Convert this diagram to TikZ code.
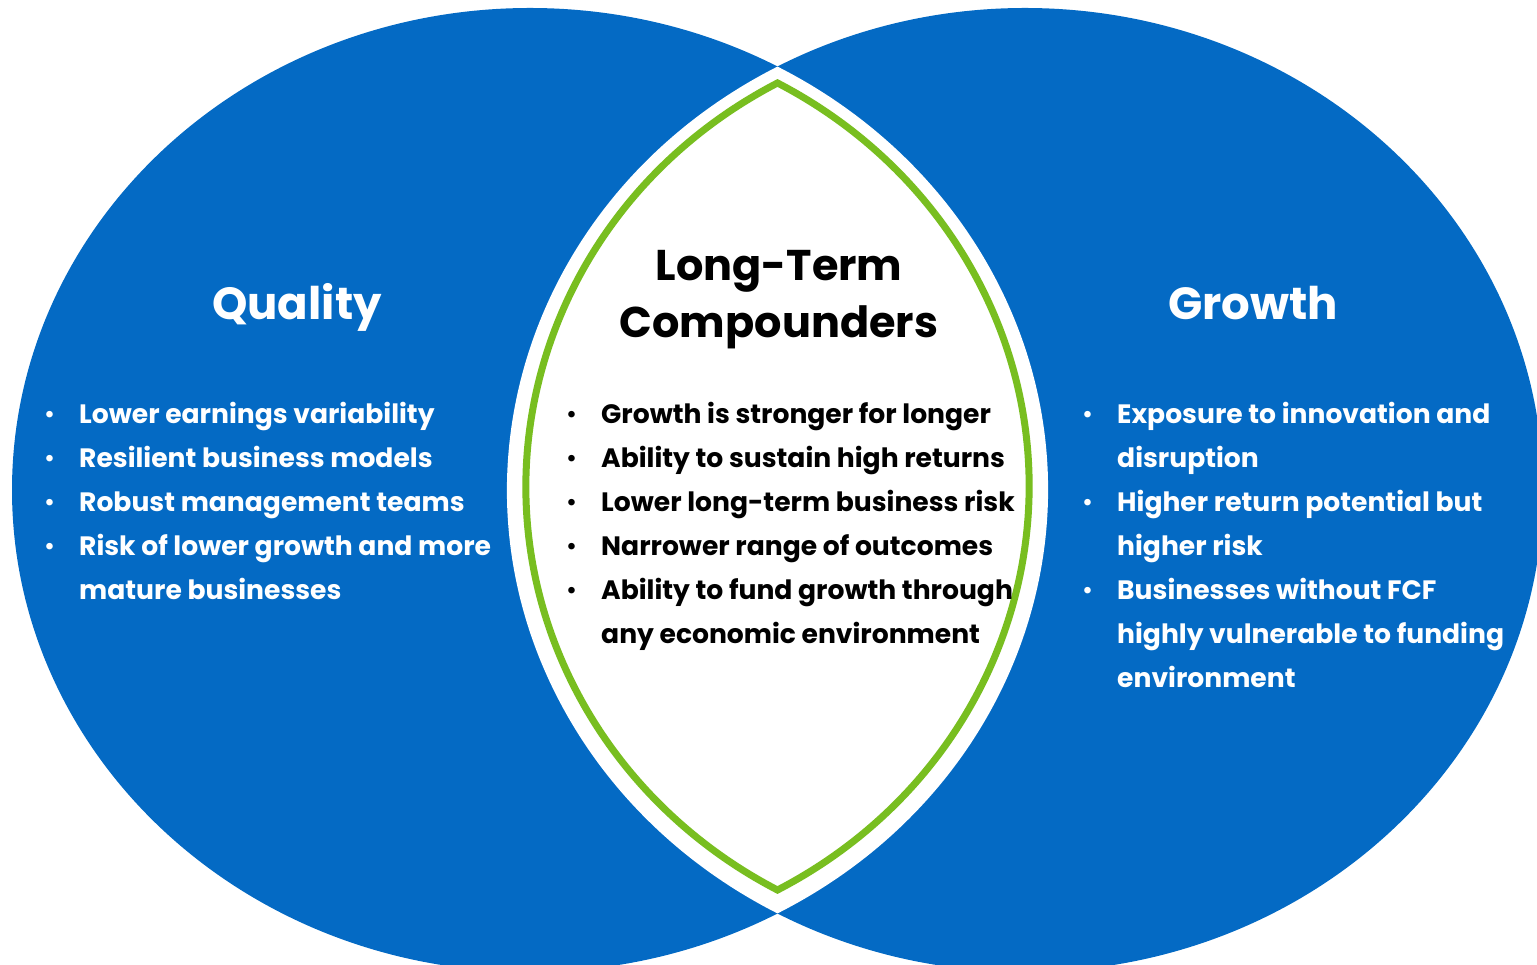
\documentclass[tikz,border=0pt]{standalone}
\usepackage{fontspec}
\setmainfont{Poppins}
\definecolor{vblue}{RGB}{4,106,196}
\definecolor{vgreen}{RGB}{120,190,32}
\newcommand{\bul}{\makebox[36pt][l]{\hspace*{1pt}{\mdseries\textbullet}}}
\newcommand{\ind}{\hspace*{36pt}}
\begin{document}
\begin{tikzpicture}[x=1pt,y=1pt,
  listtext/.style={anchor=base west, align=left, inner sep=0pt, font=\bfseries\fontsize{26.6}{44}\selectfont},
  titletext/.style={anchor=base, inner sep=0pt, font=\bfseries\fontsize{45}{57}\selectfont, align=center},
  midtitle/.style={anchor=base, inner sep=0pt, font=\bfseries\fontsize{43}{57}\selectfont, align=center}]
\useasboundingbox (0,0) rectangle (1537,964);
\fill[vblue] (530,474) ellipse[x radius=518, y radius=482];
\fill[vblue] (1025,474) ellipse[x radius=518, y radius=482];
\fill[white] (777.5,897.4) arc[start angle=118.54, end angle=241.46, x radius=518, y radius=482]
  arc[start angle=-61.46, end angle=61.46, x radius=518, y radius=482] -- cycle;
\begin{scope}[shift={(777.5,477.5)}, xscale=0.93, yscale=0.953]
\draw[vgreen, line width=7pt, line join=miter] (0,423.4) arc[start angle=118.54, end angle=241.46, x radius=518, y radius=482]
  arc[start angle=-61.46, end angle=61.46, x radius=518, y radius=482] -- cycle;
\end{scope}
\node[titletext, text=white] (q) at (297,644) {Quality};
\node[titletext, text=white] (g) at (1253,644) {Growth};
\node[midtitle, text=black] (c) at (779,626) {Long-Term\\Compounders};
\node[listtext, text=white] (ql) at (43,364) {\bul Lower earnings variability\\
\bul Resilient business models\\
\bul Robust management teams\\
\bul Risk of lower growth and more\\
\ind mature businesses};
\node[listtext, text=black] (cl) at (565,320) {\bul Growth is stronger for longer\\
\bul Ability to sustain high returns\\
\bul Lower long-term business risk\\
\bul Narrower range of outcomes\\
\bul Ability to fund growth through\\
\ind any economic environment};
\node[listtext, text=white] (gl) at (1081,276) {\bul Exposure to innovation and\\
\ind disruption\\
\bul Higher return potential but\\
\ind higher risk\\
\bul Businesses without FCF\\
\ind highly vulnerable to funding\\
\ind environment};
\end{tikzpicture}
\end{document}
